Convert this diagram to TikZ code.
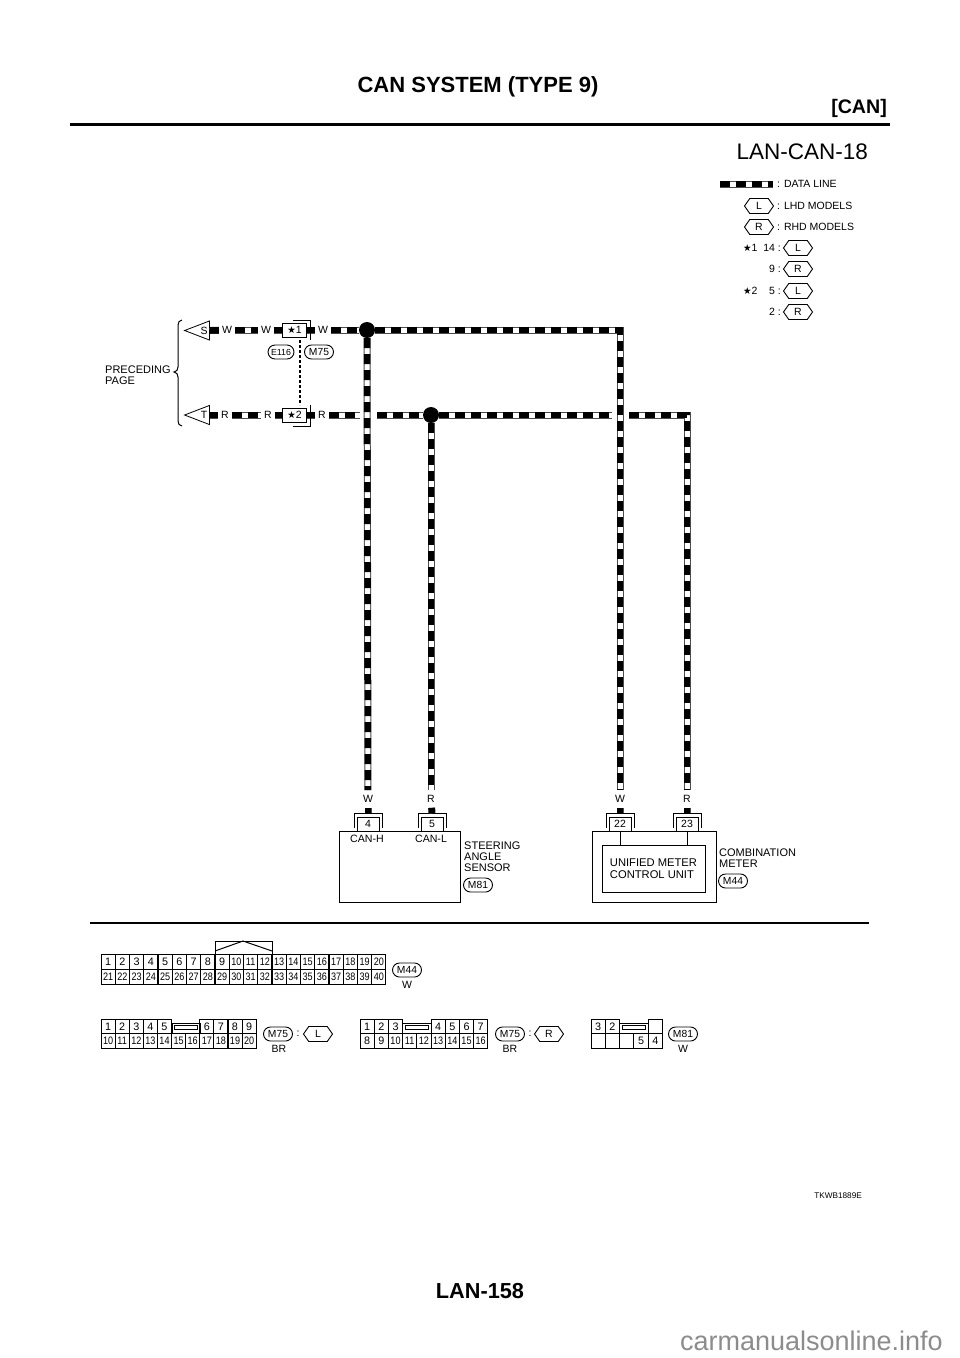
\documentclass[tikz,border=0pt]{standalone}
\usepackage{fontspec}
\setmainfont{Liberation Sans}
\newfontfamily\starfont{DejaVu Sans}
\usetikzlibrary{shapes.geometric,shapes.misc,shapes.symbols,positioning}

\tikzset{
  cable/.style={line width=6.5pt,dash pattern=on 10pt off 6pt,
     preaction={draw,solid,line width=7pt,draw=black!70},
     preaction={draw,solid,line width=5pt,draw=white}},
  empalme/.style={circle,fill=black,inner sep=0pt,minimum size=16pt},
  pill/.style={rounded rectangle,draw,line width=.9pt,inner sep=0pt,minimum width=29pt,minimum height=14pt,font=\fontsize{10.3}{10.3}\selectfont},
  hexa/.style={signal,signal to=west and east,signal pointer angle=110,draw,line width=.9pt,inner sep=0pt,minimum width=29pt,minimum height=15pt,font=\fontsize{10.5}{10.5}\selectfont},
  flecha/.style={isosceles triangle,isosceles triangle apex angle=42,shape border rotate=180,draw,line width=.8pt,inner sep=0pt,minimum height=25pt,minimum width=18pt},
  etiq/.style={font=\fontsize{10.5}{10.5}\selectfont,inner xsep=3pt,inner ysep=5pt},
  texto/.style={font=\fontsize{10.5}{11}\selectfont,align=left,inner sep=0pt,anchor=west},
  rotulo/.style={font=\fontsize{11}{11}\selectfont,align=left,inner sep=0pt,anchor=west},
  caja/.style={draw,line width=1pt,inner sep=0pt},
  clavija/.style={draw,line width=.9pt,fill=white,inner sep=0pt,minimum width=22pt,minimum height=14pt,font=\fontsize{10.5}{10.5}\selectfont},
  celda/.style={draw,line width=1pt,inner sep=0pt,minimum width=14.2pt,minimum height=14.6pt,font=\fontsize{10.8}{10.8}\selectfont},
}
\newcommand{\angosto}[1]{\scalebox{.84}[1]{#1}}
\newcommand{\estrella}{{\starfont\fontsize{9.5}{9.5}\selectfont★}}

\begin{document}
\begin{tikzpicture}[x=1pt,y=-1pt]
\useasboundingbox (0,0) rectangle (960,1358);
%% Draw page header and footer
  \node [font=\bfseries\fontsize{22}{22}\selectfont] (titulo) at (478,87) {CAN SYSTEM (TYPE 9)};
  \node [font=\bfseries\fontsize{19.6}{19.6}\selectfont,anchor=east,inner sep=0pt] (can) at (887,108) {[CAN]};
  \coordinate (ra) at (70,124); \coordinate (rb) at (890,124);
  \draw [line width=3pt] (ra) -- (rb);
  \node [font=\fontsize{22.5}{22.5}\selectfont,anchor=east,inner sep=0pt] (hoja) at (868,152) {LAN-CAN-18};
  \node [font=\fontsize{8.2}{8.2}\selectfont,anchor=east,inner sep=0pt] (codigo) at (862,1196) {TKWB1889E};
  \node [font=\bfseries\fontsize{21.7}{21.7}\selectfont] (pagina) at (480,1291) {LAN-158};
  \node [font=\fontsize{27}{27}\selectfont,anchor=east,inner sep=0pt,text=black!45] (web) at (943,1341) {carmanualsonline.info};

%% Draw legend
  \coordinate (la) at (720,184); \coordinate (lb) at (773,184);
  \draw [cable] (la) -- (lb);
  \node [texto] (ldata) at (777,184) {: DATA LINE};
  \node [hexa] (lhd) at (759,206) {L};
  \node [texto] (tlhd) at (777,206) {: LHD MODELS};
  \node [hexa] (rhd) at (759,227) {R};
  \node [texto] (trhd) at (777,227) {: RHD MODELS};
  \foreach \nom/\tipo/\yy/\num in {a/L/248/14,b/R/269/9,c/L/291/5,d/R/312/2} {
    \node [hexa] (h\nom) at (798,\yy) {\tipo};
    \node [texto,anchor=east] (t\nom) at (781,\yy) {\num\ :};
  }
  \node [texto] (star1) at (743,248) {\estrella1};
  \node [texto] (star2) at (743,291) {\estrella2};

%% Draw wires
  \node [flecha] (S) at (203,330.5) {};
  \node [flecha] (T) at (203,415) {};
  \node [font=\fontsize{10.5}{10.5}\selectfont] (sl) at (204,330.5) {S};
  \node [font=\fontsize{10.5}{10.5}\selectfont] (tl) at (204,415) {T};
  \node [empalme] (j1) at (367,330) {};
  \node [empalme] (j2) at (431,415) {};

  \node [etiq] (w1) at (227,330) {W};
  \node [etiq] (w2) at (266,330) {W};
  \node [etiq] (w3) at (323,330) {W};
  \node [etiq] (r1) at (225,415) {R};
  \node [etiq] (r2) at (268,415) {R};
  \node [etiq] (r3) at (322,415) {R};
  \node [caja,fill=white,minimum width=24pt,minimum height=14pt,font=\fontsize{10.5}{10.5}\selectfont] (k1) at (294.5,330) {\estrella1};
  \node [caja,fill=white,minimum width=24pt,minimum height=14pt,font=\fontsize{10.5}{10.5}\selectfont] (k2) at (294.5,415) {\estrella2};
  \coordinate (k1a) at (293,320); \coordinate (k1b) at (310,320); \coordinate (k1c) at (310,340);
  \coordinate (k2a) at (293,426); \coordinate (k2b) at (310,426); \coordinate (k2c) at (310,405);
  \draw [cable] (w2) -- (k1);
  \draw [cable] (k1) -- (w3);
  \draw [cable] (r2) -- (k2);
  \draw [cable] (k2) -- (r3);
  \draw [line width=1pt] (k1a) -- (k1b) -- (k1c);
  \draw [line width=1pt] (k2a) -- (k2b) -- (k2c);
  \coordinate (da) at (300,340); \coordinate (db) at (300,405);
  \draw [line width=1.2pt,dash pattern=on 3pt off 2pt] (da) -- (db);
  \node [pill,minimum width=26pt,font=\fontsize{8.8}{8.8}\selectfont] (e116) at (281,352) {E116};
  \node [pill] (m75a) at (319,352) {M75};

  \draw [cable] (S.east) -- (w1);
  \draw [cable] (w1) -- (w2);
  \draw [cable] (w3) -- (j1);
  \draw [cable] (T.east) -- (r1);
  \draw [cable] (r1) -- (r2);
  \coordinate (xa) at (360,415); \coordinate (xb) at (377,415);
  \coordinate (xc) at (612,415); \coordinate (xd) at (629,415);
  \draw [cable] (r3) -- (xa);
  \draw [cable] (xb) -- (j2);

  \node [etiq] (bw1) at (368,799) {W};
  \node [etiq] (br1) at (431,799) {R};
  \node [etiq] (bw2) at (620,799) {W};
  \node [etiq] (br2) at (687,799) {R};

  \coordinate (v1) at (620,330); \coordinate (v2) at (687,415);
  \draw [cable] (j1) -- (bw1);
  \draw [cable] (j1) -- (v1) -- (bw2);
  \draw [cable] (j2) -- (xc);
  \draw [cable] (xd) -- (v2) -- (br2);
  \draw [cable] (j2) -- (br1);

%% Draw units at the bottom
  \node [caja,minimum width=121pt,minimum height=71pt] (sas) at (399.5,866.5) {};
  \node [caja,minimum width=124pt,minimum height=71pt] (cmb) at (654,866.5) {};
  \node [caja,minimum width=103pt,minimum height=47pt,align=left,font=\fontsize{11.2}{12}\selectfont] (umc) at (653.5,868.5) {UNIFIED METER\\CONTROL UNIT};
  \foreach \nom/\num/\xx/\arr in {p4/4/368/bw1,p5/5/432/br1,p22/22/620/bw2,p23/23/687/br2} {
    \node [clavija] (\nom) at (\xx,824) {\num};
    \coordinate (\nom a) at (\xx-14,828);
    \coordinate (\nom b) at (\xx-14,813);
    \coordinate (\nom c) at (\xx+14,813);
    \coordinate (\nom d) at (\xx+14,828);
    \draw [line width=1pt] (\nom a) -- (\nom b) -- (\nom c) -- (\nom d);
    \draw [cable] (\arr) -- (\nom b -| \nom);
  }
  \draw [line width=1pt] (p22) -- (p22 |- umc.north);
  \draw [line width=1pt] (p23) -- (p23 |- umc.north);
  \node [font=\fontsize{10.6}{10.6}\selectfont,inner sep=0pt] (canh) at (367,839) {CAN-H};
  \node [font=\fontsize{10.6}{10.6}\selectfont,inner sep=0pt] (canl) at (431,839) {CAN-L};
  \node [rotulo] (tsas) at (464,857) {STEERING\\ANGLE\\SENSOR};
  \node [pill] (m81a) at (478,885) {M81};
  \node [rotulo] (tcmb) at (719,858.5) {COMBINATION\\METER};
  \node [pill] (m44a) at (733,881) {M44};

%% Draw brace and note
  \node [rotulo] (prec) at (105,375) {PRECEDING\\PAGE};
  \coordinate (ba) at (182,320); \coordinate (bb) at (178,325); \coordinate (bc) at (178,367);
  \coordinate (bd) at (174,372); \coordinate (be) at (178,377); \coordinate (bf) at (178,421); \coordinate (bg) at (182,426);
  \draw [line width=1pt] (ba) to [out=180,in=90] (bb) -- (bc) to [out=270,in=0] (bd) to [out=0,in=90] (be) -- (bf) to [out=270,in=180] (bg);

  \coordinate (sa) at (90,923); \coordinate (sb) at (869,923);
  \draw [line width=1.6pt] (sa) -- (sb);

%% Draw connector faces
  \foreach \n [count=\i from 0] in {1,...,9} {
    \node [celda] (ca\n) at (108.1+\i*14.25,962) {\n};
  }
  \foreach \n [count=\i from 9] in {10,...,20} {
    \node [celda] (ca\n) at (108.1+\i*14.25,962) {\angosto{\n}};
  }
  \foreach \n [count=\i from 0] in {21,...,40} {
    \node [celda] (ca\n) at (108.1+\i*14.25,977) {\angosto{\n}};
  }
  \coordinate (na) at (215,955); \coordinate (nb) at (215,941); \coordinate (nc) at (272,941); \coordinate (nd) at (272,955);
  \coordinate (ne) at (215,951); \coordinate (nf) at (243,941); \coordinate (ng) at (272,951);
  \draw [line width=1pt] (na) -- (nb) -- (nc) -- (nd);
  \draw [line width=1pt] (ne) -- (nf) -- (ng);
  \node [pill] (m44b) at (407,970) {M44};
  \node [etiq] (m44w) at (407,985) {W};

  \foreach \n/\i in {1/0,2/1,3/2,4/3,5/4,6/7,7/8,8/9,9/10} {
    \node [celda] (cb\n) at (108.1+\i*14.1,1026.5) {\n};
  }
  \foreach \n [count=\i from 0] in {10,...,20} {
    \node [celda] (cb\n) at (108.1+\i*14.1,1041) {\angosto{\n}};
  }
  \coordinate (mba) at (172,1034); \coordinate (mbb) at (172,1023); \coordinate (mbc) at (200,1023); \coordinate (mbd) at (200,1034);
  \draw [line width=1pt] (mba) -- (mbb) -- (mbc) -- (mbd);
  \node [draw,line width=1pt,inner sep=0pt,minimum width=23pt,minimum height=4pt] (ranb) at (186,1027.5) {};
  \node [pill] (m75b) at (278,1034) {M75};
  \node [etiq] (m75bb) at (279,1049) {BR};
  \node [etiq] (m75bc) at (298,1034) {:};
  \node [hexa] (m75bl) at (318,1034) {L};

  \foreach \n/\i in {1/0,2/1,3/2,4/5,5/6,6/7,7/8} {
    \node [celda] (cc\n) at (367.1+\i*14.2,1026.5) {\n};
  }
  \foreach \n [count=\i from 0] in {8,9} {
    \node [celda] (cc\n) at (367.1+\i*14.2,1041) {\n};
  }
  \foreach \n [count=\i from 2] in {10,...,16} {
    \node [celda] (cc\n) at (367.1+\i*14.2,1041) {\angosto{\n}};
  }
  \coordinate (mca) at (402.5,1034); \coordinate (mcb) at (402.5,1023); \coordinate (mcc) at (431,1023); \coordinate (mcd) at (431,1034);
  \draw [line width=1pt] (mca) -- (mcb) -- (mcc) -- (mcd);
  \node [draw,line width=1pt,inner sep=0pt,minimum width=23pt,minimum height=4pt] (ranc) at (416.7,1027.5) {};
  \node [pill] (m75c) at (510,1034) {M75};
  \node [etiq] (m75cb) at (510,1049) {BR};
  \node [etiq] (m75cc) at (530,1034) {:};
  \node [hexa] (m75cr) at (549,1034) {R};

  \foreach \n/\i in {3/0,2/1,{}/4} {
    \node [celda] (cd\i) at (598.1+\i*14.3,1026.5) {\n};
  }
  \foreach \n/\i in {{}/0,{}/1,{}/2,5/3,4/4} {
    \node [celda] (ce\i) at (598.1+\i*14.3,1041) {\n};
  }
  \coordinate (mda) at (619.5,1034); \coordinate (mdb) at (619.5,1023); \coordinate (mdc) at (648,1023); \coordinate (mdd) at (648,1034);
  \draw [line width=1pt] (mda) -- (mdb) -- (mdc) -- (mdd);
  \node [draw,line width=1pt,inner sep=0pt,minimum width=23pt,minimum height=4pt] (rand) at (634,1027.5) {};
  \node [pill] (m81b) at (683,1034) {M81};
  \node [etiq] (m81w) at (683,1049) {W};
\end{tikzpicture}
\end{document}
